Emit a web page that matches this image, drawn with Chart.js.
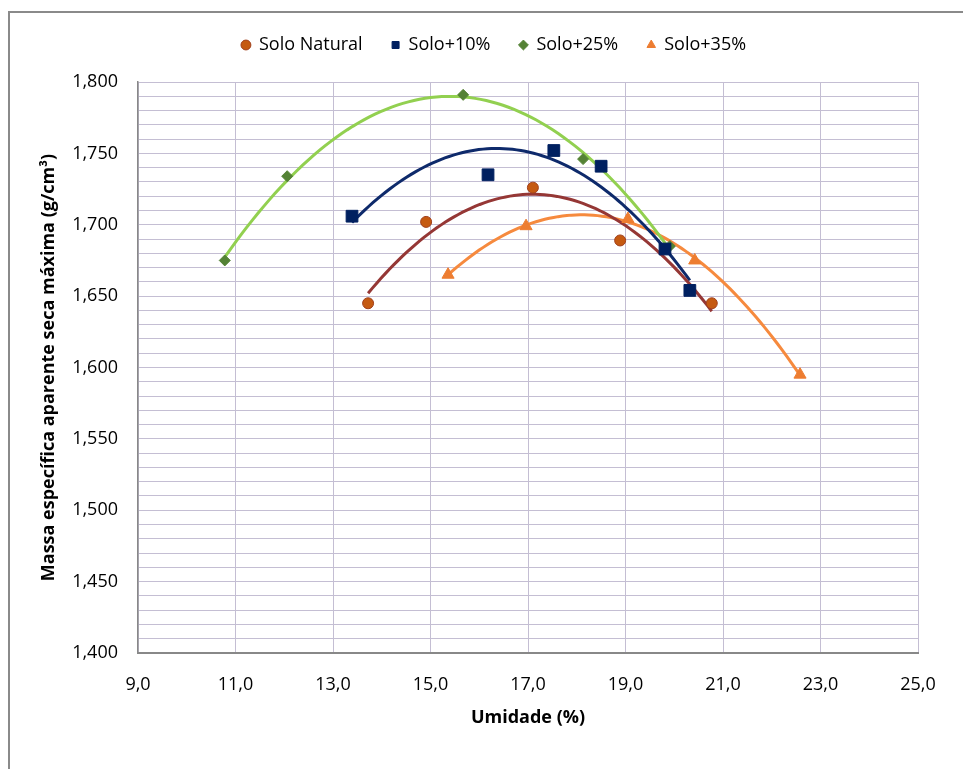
<!DOCTYPE html>
<html>
<head>
<meta charset="utf-8">
<script src="https://cdn.jsdelivr.net/npm/chart.js@4/dist/chart.umd.min.js"></script>
<style>
  html, body { margin: 0; padding: 0; background: #fff; }
  #frame { position: absolute; left: 8px; top: 11px; width: 1000px; height: 800px;
           border-left: 2px solid #8a8a8a; border-top: 2px solid #8a8a8a; }
  #wrap { position: absolute; left: 0; top: 0; width: 963px; height: 769px; }
</style>
</head>
<body>
<div id="frame"></div>
<div id="wrap"><canvas id="c" width="963" height="769"></canvas></div>
<script>
// ---- data ----
const seriesNames = ["Solo Natural", "Solo+10%", "Solo+25%", "Solo+35%"];

const naturalX = [13.72, 14.91, 17.10, 18.89, 20.77];
const naturalY = [1.645, 1.702, 1.726, 1.689, 1.645];

const plus10X = [13.39, 16.18, 17.53, 18.50, 19.81, 20.32];
const plus10Y = [1.706, 1.735, 1.752, 1.741, 1.683, 1.654];

const plus25X = [10.78, 12.06, 15.67, 18.13, 19.91];
const plus25Y = [1.675, 1.734, 1.791, 1.746, 1.685];

const plus35X = [15.36, 16.96, 19.05, 20.42, 22.58];
const plus35Y = [1.665, 1.699, 1.704, 1.675, 1.595];

const xTicks = [9, 11, 13, 15, 17, 19, 21, 23, 25];
const yMajorTicks = [1.40, 1.45, 1.50, 1.55, 1.60, 1.65, 1.70, 1.75, 1.80];

// ---- 2nd-order polynomial trendline (least squares, as in the original) ----
function quadFit(xs, ys) {
  let s = [0,0,0,0,0], t = [0,0,0];
  for (let i = 0; i < xs.length; i++) {
    const x = xs[i], y = ys[i];
    for (let k = 0; k < 5; k++) s[k] += Math.pow(x, k);
    for (let k = 0; k < 3; k++) t[k] += y * Math.pow(x, k);
  }
  const A = [[s[0], s[1], s[2], t[0]], [s[1], s[2], s[3], t[1]], [s[2], s[3], s[4], t[2]]];
  for (let i = 0; i < 3; i++) {
    let p = i;
    for (let r = i + 1; r < 3; r++) if (Math.abs(A[r][i]) > Math.abs(A[p][i])) p = r;
    [A[i], A[p]] = [A[p], A[i]];
    for (let r = 0; r < 3; r++) {
      if (r === i) continue;
      const f = A[r][i] / A[i][i];
      for (let c = i; c < 4; c++) A[r][c] -= f * A[i][c];
    }
  }
  return [A[0][3] / A[0][0], A[1][3] / A[1][1], A[2][3] / A[2][2]];
}
function trend(xs, ys, steps) {
  const c = quadFit(xs, ys);
  const x0 = Math.min(...xs), x1 = Math.max(...xs);
  const pts = [];
  for (let i = 0; i <= steps; i++) {
    const x = x0 + (x1 - x0) * i / steps;
    pts.push({ x: x, y: c[0] + c[1] * x + c[2] * x * x });
  }
  return pts;
}
const pts = (xs, ys) => xs.map((x, i) => ({ x: x, y: ys[i] }));

const FONT = "'Open Sans', Lato, sans-serif";

const datasets = [
  { label: seriesNames[0], data: pts(naturalX, naturalY), pointStyle: 'circle', pointRadius: 5.5,
    backgroundColor: '#C55A11', borderColor: '#A0401C', borderWidth: 1, showLine: false },
  { label: seriesNames[1], data: pts(plus10X, plus10Y), pointStyle: 'rect', pointRadius: 8.3,
    backgroundColor: '#002060', borderColor: '#002060', borderWidth: 1, showLine: false },
  { label: seriesNames[2], data: pts(plus25X, plus25Y), pointStyle: 'rectRot', pointRadius: 5.5,
    backgroundColor: '#548235', borderColor: '#548235', borderWidth: 1, showLine: false },
  { label: seriesNames[3], data: pts(plus35X, plus35Y), pointStyle: 'triangle', pointRadius: 7,
    backgroundColor: '#ED7D31', borderColor: '#ED7D31', borderWidth: 1, showLine: false },
  { label: 'trend', data: trend(naturalX, naturalY, 80), showLine: true, pointRadius: 0,
    borderColor: '#953735', borderWidth: 3, fill: false },
  { label: 'trend', data: trend(plus10X, plus10Y, 80), showLine: true, pointRadius: 0,
    borderColor: '#0E2A6B', borderWidth: 3, fill: false },
  { label: 'trend', data: trend(plus25X, plus25Y, 80), showLine: true, pointRadius: 0,
    borderColor: '#92D050', borderWidth: 3, fill: false },
  { label: 'trend', data: trend(plus35X, plus35Y, 80), showLine: true, pointRadius: 0,
    borderColor: '#F68A3E', borderWidth: 3, fill: false }
];

const legendSpacer = {
  id: 'legendSpacer',
  beforeInit(chart) {
    const lg = chart.legend;
    if (!lg) return;
    const orig = lg.fit;
    lg.fit = function () { orig.call(this); this.height += 18; };
  },
  afterLayout(chart) {
    const lg = chart.legend;
    if (!lg) return;
    lg.left += 16; lg.right += 16;
  }
};

new Chart(document.getElementById('c'), {
  type: 'scatter',
  data: { datasets: datasets },
  plugins: [legendSpacer],
  options: {
    responsive: false,
    animation: false,
    layout: { padding: { top: 7, right: 45, bottom: 40, left: 38 } },
    plugins: {
      tooltip: { enabled: false },
      legend: {
        position: 'top',
        labels: {
          filter: (item) => item.text !== 'trend',
          usePointStyle: true,
          boxWidth: 8, boxHeight: 7,
          padding: 29,
          color: '#000',
          font: { family: FONT, size: 18 }
        }
      }
    },
    scales: {
      x: {
        type: 'linear',
        min: xTicks[0], max: xTicks[xTicks.length - 1],
        afterBuildTicks: (s) => { s.ticks = xTicks.map(v => ({ value: v })); },
        afterFit: (s) => { s.height = 76; },
        ticks: {
          padding: 21, color: '#000',
          font: { family: FONT, size: 18 },
          callback: (v) => Number(v).toFixed(1).replace('.', ',')
        },
        grid: { color: '#C4BED3', lineWidth: 1, drawTicks: false },
        border: { color: '#888888', width: 2 },
        title: { display: true, text: 'Umidade (%)', color: '#000',
                 font: { family: FONT, size: 18, weight: 'bold' }, padding: { top: 6, bottom: 0 } }
      },
      y: {
        type: 'linear',
        min: 1.4, max: 1.8,
        afterBuildTicks: (s) => {
          const t = [];
          for (let i = 0; i <= 40; i++) t.push({ value: Math.round((1.4 + i * 0.01) * 1000) / 1000 });
          s.ticks = t;
        },
        afterFit: (s) => { s.width = 100; },
        ticks: {
          autoSkip: false, padding: 20, color: '#000',
          font: { family: FONT, size: 18 },
          callback: (v) => {
            const isMajor = yMajorTicks.some(m => Math.abs(m - v) < 1e-6);
            return isMajor ? Number(v).toFixed(3).replace('.', ',') : '';
          }
        },
        grid: { color: '#C4BED3', lineWidth: 1, drawTicks: false },
        border: { color: '#888888', width: 1.5 },
        title: { display: true, text: 'Massa específica aparente seca máxima (g/cm³)', color: '#000',
                 font: { family: FONT, size: 18, weight: 'bold' }, padding: { top: 0, bottom: 0 } }
      }
    }
  }
});
</script>
</body>
</html>
